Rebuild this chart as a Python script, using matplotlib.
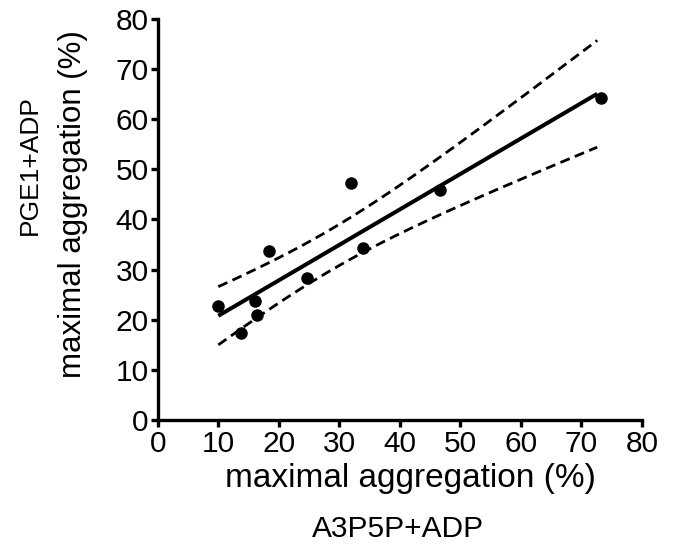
import numpy as np
import matplotlib
matplotlib.use("Agg")
import matplotlib.pyplot as plt

plt.rcParams['font.family'] = ['Liberation Sans', 'DejaVu Sans']

# Data
a3p5p = [10.0, 13.7, 16.0, 16.4, 18.3, 24.7, 32.0, 33.9, 46.7, 73.3]
pge1 = [22.8, 17.3, 23.8, 21.0, 33.8, 28.4, 47.2, 34.4, 45.8, 64.2]
xticks = [0, 10, 20, 30, 40, 50, 60, 70, 80]
yticks = [0, 10, 20, 30, 40, 50, 60, 70, 80]
t_crit = 2.306  # t(0.975, df=8)

x = np.array(a3p5p)
y = np.array(pge1)
n = len(x)
slope, intercept = np.polyfit(x, y, 1)
xs = np.linspace(x.min(), x.max() - 0.7, 200)
yfit = intercept + slope * xs
resid = y - (intercept + slope * x)
s = np.sqrt(np.sum(resid ** 2) / (n - 2))
sxx = np.sum((x - x.mean()) ** 2)
se = s * np.sqrt(1.0 / n + (xs - x.mean()) ** 2 / sxx)
upper = yfit + t_crit * se
lower = yfit - t_crit * se

fig = plt.figure(figsize=(6.83, 5.57), dpi=100)
ax = fig.add_axes([0.231, 0.246, 0.709, 0.72])

ax.plot(xs, yfit, color='black', lw=2.9, solid_capstyle='butt')
ax.plot(xs, upper, color='black', lw=2.0, dashes=(3.6, 2.0))
ax.plot(xs, lower, color='black', lw=2.0, dashes=(3.6, 2.0))
ax.plot(x, y, 'o', color='black', markersize=8, clip_on=False)

ax.set_xlim(0, 80)
ax.set_ylim(0, 80)
ax.set_xticks(xticks)
ax.set_yticks(yticks)
ax.tick_params(axis='both', labelsize=21.5, width=2.4, length=5, direction='out')
ax.tick_params(axis='y', pad=1.5)
ax.tick_params(axis='x', pad=2.0)
for side in ['top', 'right']:
    ax.spines[side].set_visible(False)
for side in ['left', 'bottom']:
    ax.spines[side].set_linewidth(2.4)

fig.text(410 / 683, 1 - 478 / 557, 'maximal aggregation (%)', fontsize=24,
         ha='center', va='center')
fig.text(398 / 683, 1 - 529 / 557, 'A3P5P+ADP', fontsize=21.5,
         ha='center', va='center')
fig.text(73 / 683, 1 - 204 / 557, 'maximal aggregation (%)', fontsize=22.5,
         ha='center', va='center', rotation=90)
fig.text(30 / 683, 1 - 165 / 557, 'PGE1+ADP', fontsize=19,
         ha='center', va='center', rotation=90)

fig.savefig('out.png', dpi=100)
